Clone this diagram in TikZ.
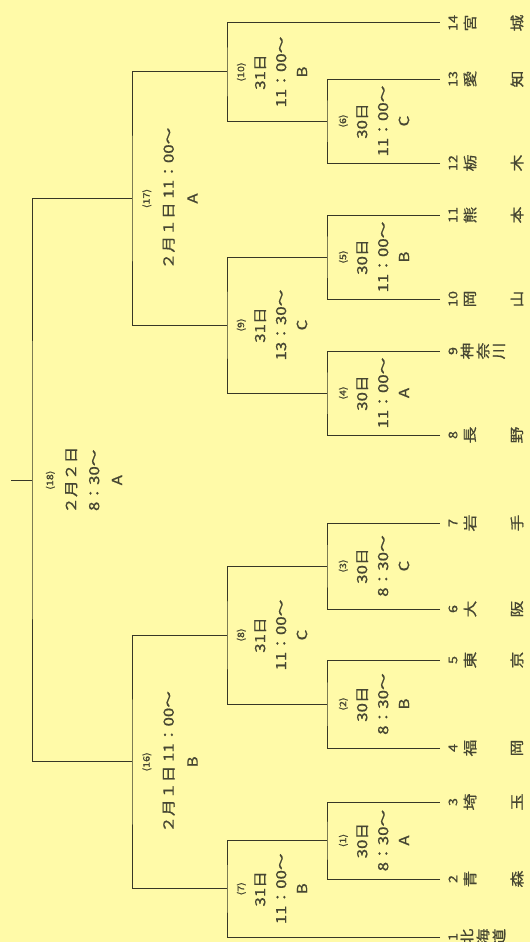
\documentclass[tikz,border=0pt]{standalone}
\usepackage{fontspec}
\usepackage{xcolor}
\usetikzlibrary{calc}
\newfontfamily\jpfont{Noto Sans CJK JP}[FakeStretch=1.2, FakeBold=0.8]
\definecolor{paper}{RGB}{255,250,168}
\definecolor{ink}{RGB}{55,55,38}
\definecolor{print}{RGB}{70,70,50}

% one match of the bracket: #1 name, #2 column, #3 and #4 the two entrants
\newcommand{\bout}[4]{%
	\coordinate (#1h) at ($(#3)!0.5!(#4)$);
	\coordinate (#1) at (#1h -| #2);
	\draw[bracket] (#3) -| (#1) |- (#4);
}
% small game number
\newcommand{\gno}[1]{{\fontsize{9}{9}\selectfont(#1)}}

\begin{document}
\begin{tikzpicture}[x=1pt, y=-1pt,
	bracket/.style={draw=ink, line width=1pt},
	game/.style={rotate=90, align=center, text=print, inner sep=0pt, font=\jpfont\fontsize{14}{21}\selectfont},
	num/.style={rotate=90, text=print, inner sep=0pt, font=\jpfont\fontsize{12}{12}\selectfont},
	pref/.style={rotate=90, text=print, inner sep=0pt, font=\jpfont\fontsize{14}{14}\selectfont}]

	\fill[paper] (0,0) rectangle (530,942);
	\useasboundingbox (0,0) rectangle (530,942);

	% the fourteen entrants
	\foreach \i/\y in {1/937, 2/879, 3/802, 4/748, 5/660, 6/609, 7/523, 8/435, 9/351, 10/299, 11/215, 12/163, 13/79, 14/23}
		\coordinate (t\i) at (440,\y);

	% columns of the rounds
	\coordinate (c1) at (327,0);
	\coordinate (c2) at (227,0);
	\coordinate (c3) at (132,0);
	\coordinate (c4) at (32,0);

	\bout{m1}{c1}{t2}{t3}
	\bout{m2}{c1}{t4}{t5}
	\bout{m3}{c1}{t6}{t7}
	\bout{m4}{c1}{t8}{t9}
	\bout{m5}{c1}{t10}{t11}
	\bout{m6}{c1}{t12}{t13}
	\bout{m7}{c2}{t1}{m1}
	\bout{m8}{c2}{m2}{m3}
	\bout{m9}{c2}{m4}{m5}
	\bout{m10}{c2}{m6}{t14}
	\bout{m16}{c3}{m7}{m8}
	\bout{m17}{c3}{m9}{m10}
	\bout{m18}{c4}{m16}{m17}
	\coordinate (root) at ($(m18)+(-21,0)$);
	\draw[bracket] (m18) -- (root);

	% games
	\node[game] (g1) at ($(m1)+(47,0)$) {\gno{1}\\30日\\8：30～\\A};
	\node[game] (g2) at ($(m2)+(47,0)$) {\gno{2}\\30日\\8：30～\\B};
	\node[game] (g3) at ($(m3)+(47,0)$) {\gno{3}\\30日\\8：30～\\C};
	\node[game] (g4) at ($(m4)+(47,0)$) {\gno{4}\\30日\\11：00～\\A};
	\node[game] (g5) at ($(m5)+(47,0)$) {\gno{5}\\30日\\11：00～\\B};
	\node[game] (g6) at ($(m6)+(47,0)$) {\gno{6}\\30日\\11：00～\\C};
	\node[game] (g7) at ($(m7)+(45,0)$) {\gno{7}\\31日\\11：00～\\B};
	\node[game] (g8) at ($(m8)+(45,0)$) {\gno{8}\\31日\\11：00～\\C};
	\node[game] (g9) at ($(m9)+(45,0)$) {\gno{9}\\31日\\13：30～\\C};
	\node[game] (g10) at ($(m10)+(45,0)$) {\gno{10}\\31日\\11：00～\\B};
	\node[game, font=\jpfont\fontsize{14}{24}\selectfont] (g16) at ($(m16)+(38,0)$) {\gno{16}\\２月１日 11：00～\\B};
	\node[game, font=\jpfont\fontsize{14}{24}\selectfont] (g17) at ($(m17)+(38,0)$) {\gno{17}\\２月１日 11：00～\\A};
	\node[game, font=\jpfont\fontsize{14}{23}\selectfont] (g18) at ($(m18)+(52,0)$) {\gno{18}\\２月２日\\8：30～\\A};

	% prefectures
	\foreach \i/\a/\b in {2/青/森, 3/埼/玉, 4/福/岡, 5/東/京, 6/大/阪, 7/岩/手, 8/長/野, 10/岡/山, 11/熊/本, 12/栃/木, 13/愛/知, 14/宮/城}
	{
		\node[num] (n\i) at ($(t\i)+(13,0)$) {\i};
		\node[pref] (p\i-1) at ($(t\i)+(30,0)$) {\a};
		\node[pref] (p\i-2) at ($(t\i)+(77,0)$) {\b};
	}
	\node[num] (n1) at ($(t1)+(13,0)$) {1};
	\foreach \c [count=\k] in {北,海,道}
		\node[pref] (p1-\k) at ($(t1)+(11+16*\k,0)$) {\c};
	\node[num] (n9) at ($(t9)+(13,0)$) {9};
	\foreach \c [count=\k] in {神,奈,川}
		\node[pref] (p9-\k) at ($(t9)+(11+16*\k,0)$) {\c};

\end{tikzpicture}
\end{document}
